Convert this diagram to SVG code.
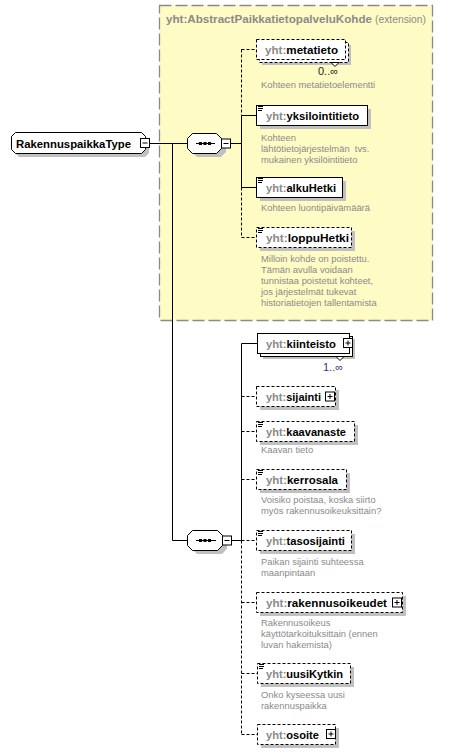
<svg xmlns="http://www.w3.org/2000/svg" width="475" height="754" viewBox="0 0 475 754">
<style>
.bg{fill:#fff}
.ext{fill:#FFFBC4;stroke:#8a8a8a;stroke-width:1.3;stroke-dasharray:12,4}
.box{fill:#fff;stroke:#000;stroke-width:1}
.opt{stroke-dasharray:3,2}
.sh{fill:#c0c0c0;stroke:none}
.ln{fill:none;stroke:#000;stroke-width:1}
.lbl{font-family:"Liberation Sans",Arial,sans-serif;font-size:11px;font-weight:bold;fill:#000}
.pfx{fill:#8a8a8a}
.ttl{font-family:"Liberation Sans",Arial,sans-serif;font-size:11px;fill:#8a8a8a}
.desc{font-family:"Liberation Sans",Arial,sans-serif;font-size:9.4px;fill:#8a8a8a}
.occ{font-family:"Liberation Sans",Arial,sans-serif;font-size:11px;fill:#222}
.ico{stroke:#000;stroke-width:1}
.dot{fill:#000}
</style>
<defs>
<g id="ic"><rect x="0" y="0" width="7" height="6" fill="#fff"/><path class="ico" d="M1,0.5H6M1,2.5H6M1,4.5H5"/></g>
<g id="plus"><rect x="0.5" y="0.5" width="9" height="9" class="box"/><path class="ln" d="M2.5,5H7.5M5,2.5V7.5"/></g>
<g id="minus"><rect x="0.5" y="0.5" width="9" height="9" class="box"/><path class="ln" d="M2.5,5H7.5"/></g>
</defs>
<rect class="bg" x="0" y="0" width="475" height="754"/>
<g id="extension">
<rect class="ext" x="159.5" y="5.5" width="273" height="315"/>
<text class="ttl" y="23"><tspan x="166" font-weight="bold" textLength="206" lengthAdjust="spacingAndGlyphs">yht:AbstractPaikkatietopalveluKohde</tspan><tspan x="375" textLength="51" lengthAdjust="spacingAndGlyphs">(extension)</tspan></text>
</g>
<g id="connectors">
<path class="ln" d="M149.5,143.5H187.5M172.5,143.5V540.5H187.5M230.5,143.5H241.5M241.5,115.5V187.5M241.5,115.5H256.5M241.5,187.5H256.5"/>
<path class="ln opt" d="M241.5,49.5V115.5M241.5,187.5V237.5M241.5,49.5H256.5M241.5,237.5H256.5"/>
<path class="ln" d="M231.5,540.5H241.5M241.5,343.5V540.5M241.5,343.5H257.5"/>
<path class="ln opt" d="M241.5,540.5V734.5M241.5,396.5H256.5M241.5,431.5H256.5M241.5,479.5H256.5M241.5,540.5H256.5M241.5,602.5H256.5M241.5,673.5H257.5M241.5,734.5H257.5"/>
</g>
<g id="RakennuspaikkaType">
<polygon class="sh" points="19,136 145,136 149,140 149,153 145,157 19,157 15,153 15,140"/>
<polygon class="box" points="15.5,132.5 141.5,132.5 145.5,136.5 145.5,149.5 141.5,153.5 15.5,153.5 11.5,149.5 11.5,136.5"/>
<text class="lbl" x="16" y="147.5" textLength="115" lengthAdjust="spacingAndGlyphs">RakennuspaikkaType</text>
<use href="#minus" x="140" y="138"/>
</g>
<g id="sequence1">
<polygon class="sh" points="197,137 221,137 226,142 226,152 221,157 197,157 192,152 192,142"/>
<polygon class="box" points="192.5,133.5 216.5,133.5 221.5,138.5 221.5,148.5 216.5,153.5 192.5,153.5 187.5,148.5 187.5,138.5"/>
<path class="ln" d="M196,143.5H215"/>
<rect class="dot" x="199" y="142" width="3" height="3"/><rect class="dot" x="203.5" y="142" width="3" height="3"/><rect class="dot" x="208" y="142" width="3" height="3"/>
<use href="#minus" x="221" y="138.5"/>
</g>
<g id="metatieto">
<rect class="sh" x="262" y="45" width="89" height="20"/>
<rect class="box opt" x="259.5" y="42.5" width="89" height="20"/>
<rect class="box opt" x="256.5" y="39.5" width="89" height="20"/>
<polygon class="box" points="331,62.5 335,66.5 339,62.5"/>
<text class="lbl" x="265" y="54" textLength="73" lengthAdjust="spacingAndGlyphs"><tspan class="pfx">yht:</tspan>metatieto</text>
<text class="occ" x="318" y="75">0..∞</text>
<text class="desc" x="261" y="88">Kohteen metatietoelementti</text>
</g>
<g id="yksilointitieto">
<rect class="sh" x="260" y="109" width="111" height="20"/>
<rect class="box" x="256.5" y="105.5" width="111" height="20"/>
<use href="#ic" x="257" y="106"/>
<text class="lbl" x="266" y="120" textLength="93" lengthAdjust="spacingAndGlyphs"><tspan class="pfx">yht:</tspan>yksilointitieto</text>
<text class="desc" x="261"><tspan x="261" y="141">Kohteen</tspan><tspan x="261" y="152">lähtötietojärjestelmän&#160; tvs.</tspan><tspan x="261" y="163">mukainen yksilöintitieto</tspan></text>
</g>
<g id="alkuHetki">
<rect class="sh" x="260" y="181" width="86" height="20"/>
<rect class="box" x="256.5" y="177.5" width="86" height="20"/>
<use href="#ic" x="257" y="178"/>
<text class="lbl" x="266" y="192" textLength="70" lengthAdjust="spacingAndGlyphs"><tspan class="pfx">yht:</tspan>alkuHetki</text>
<text class="desc" x="261" y="211">Kohteen luontipäivämäärä</text>
</g>
<g id="loppuHetki">
<rect class="sh" x="260" y="231" width="95" height="20"/>
<rect class="box opt" x="256.5" y="227.5" width="95" height="20"/>
<use href="#ic" x="257" y="228"/>
<text class="lbl" x="266" y="242" textLength="83" lengthAdjust="spacingAndGlyphs"><tspan class="pfx">yht:</tspan>loppuHetki</text>
<text class="desc"><tspan x="261" y="262">Milloin kohde on poistettu.</tspan><tspan x="261" y="273">Tämän avulla voidaan</tspan><tspan x="261" y="284">tunnistaa poistetut kohteet,</tspan><tspan x="261" y="295">jos järjestelmät tukevat</tspan><tspan x="261" y="306">historiatietojen tallentamista</tspan></text>
</g>
<g id="sequence2">
<polygon class="sh" points="197,534 222,534 227,539 227,549 222,554 197,554 192,549 192,539"/>
<polygon class="box" points="192.5,530.5 217.5,530.5 222.5,535.5 222.5,545.5 217.5,550.5 192.5,550.5 187.5,545.5 187.5,535.5"/>
<path class="ln" d="M196,540.5H216"/>
<rect class="dot" x="199" y="539" width="3" height="3"/><rect class="dot" x="203.5" y="539" width="3" height="3"/><rect class="dot" x="208" y="539" width="3" height="3"/>
<use href="#minus" x="222" y="535.5"/>
</g>
<g id="kiinteisto">
<rect class="sh" x="263" y="339" width="92" height="20"/>
<rect class="box" x="260.5" y="336.5" width="92" height="20"/>
<rect class="box" x="257.5" y="333.5" width="92" height="20"/>
<polygon class="box" points="336,356.5 340,360.5 344,356.5"/>
<text class="lbl" x="266" y="348" textLength="70" lengthAdjust="spacingAndGlyphs"><tspan class="pfx">yht:</tspan>kiinteisto</text>
<use href="#plus" x="343" y="338"/>
<text class="occ" x="323" y="371" style="fill:#3a2f78">1..∞</text>
</g>
<g id="sijainti">
<rect class="sh" x="260" y="390" width="79" height="20"/>
<rect class="box opt" x="256.5" y="386.5" width="79" height="20"/>
<text class="lbl" x="266" y="401" textLength="55" lengthAdjust="spacingAndGlyphs"><tspan class="pfx">yht:</tspan>sijainti</text>
<use href="#plus" x="325" y="391.5"/>
</g>
<g id="kaavanaste">
<rect class="sh" x="260" y="425" width="98" height="20"/>
<rect class="box opt" x="256.5" y="421.5" width="98" height="20"/>
<use href="#ic" x="257" y="422"/>
<text class="lbl" x="266" y="436" textLength="80" lengthAdjust="spacingAndGlyphs"><tspan class="pfx">yht:</tspan>kaavanaste</text>
<text class="desc" x="261" y="453">Kaavan tieto</text>
</g>
<g id="kerrosala">
<rect class="sh" x="260" y="473" width="90" height="20"/>
<rect class="box opt" x="256.5" y="469.5" width="90" height="20"/>
<use href="#ic" x="257" y="470"/>
<text class="lbl" x="266" y="484" textLength="72" lengthAdjust="spacingAndGlyphs"><tspan class="pfx">yht:</tspan>kerrosala</text>
<text class="desc"><tspan x="261" y="503">Voisiko poistaa, koska siirto</tspan><tspan x="261" y="514">myös rakennusoikeuksittain?</tspan></text>
</g>
<g id="tasosijainti">
<rect class="sh" x="260" y="534" width="95" height="20"/>
<rect class="box opt" x="256.5" y="530.5" width="95" height="20"/>
<use href="#ic" x="257" y="531"/>
<text class="lbl" x="266" y="545" textLength="79" lengthAdjust="spacingAndGlyphs"><tspan class="pfx">yht:</tspan>tasosijainti</text>
<text class="desc"><tspan x="261" y="565">Paikan sijainti suhteessa</tspan><tspan x="261" y="576">maanpintaan</tspan></text>
</g>
<g id="rakennusoikeudet">
<rect class="sh" x="260" y="596" width="146" height="20"/>
<rect class="box opt" x="256.5" y="592.5" width="146" height="20"/>
<text class="lbl" x="266" y="607" textLength="121" lengthAdjust="spacingAndGlyphs"><tspan class="pfx">yht:</tspan>rakennusoikeudet</text>
<use href="#plus" x="392" y="597.5"/>
<text class="desc"><tspan x="261" y="626">Rakennusoikeus</tspan><tspan x="261" y="637">käyttötarkoituksittain (ennen</tspan><tspan x="261" y="648">luvan hakemista)</tspan></text>
</g>
<g id="uusiKytkin">
<rect class="sh" x="261" y="667" width="93" height="20"/>
<rect class="box opt" x="257.5" y="663.5" width="93" height="20"/>
<use href="#ic" x="258" y="664"/>
<text class="lbl" x="266" y="678" textLength="77" lengthAdjust="spacingAndGlyphs"><tspan class="pfx">yht:</tspan>uusiKytkin</text>
<text class="desc"><tspan x="261" y="698">Onko kyseessa uusi</tspan><tspan x="261" y="709">rakennuspaikka</tspan></text>
</g>
<g id="osoite">
<rect class="sh" x="261" y="728" width="78" height="20"/>
<rect class="box opt" x="257.5" y="724.5" width="78" height="20"/>
<text class="lbl" x="266" y="739" textLength="53" lengthAdjust="spacingAndGlyphs"><tspan class="pfx">yht:</tspan>osoite</text>
<use href="#plus" x="326" y="729"/>
</g>
</svg>
